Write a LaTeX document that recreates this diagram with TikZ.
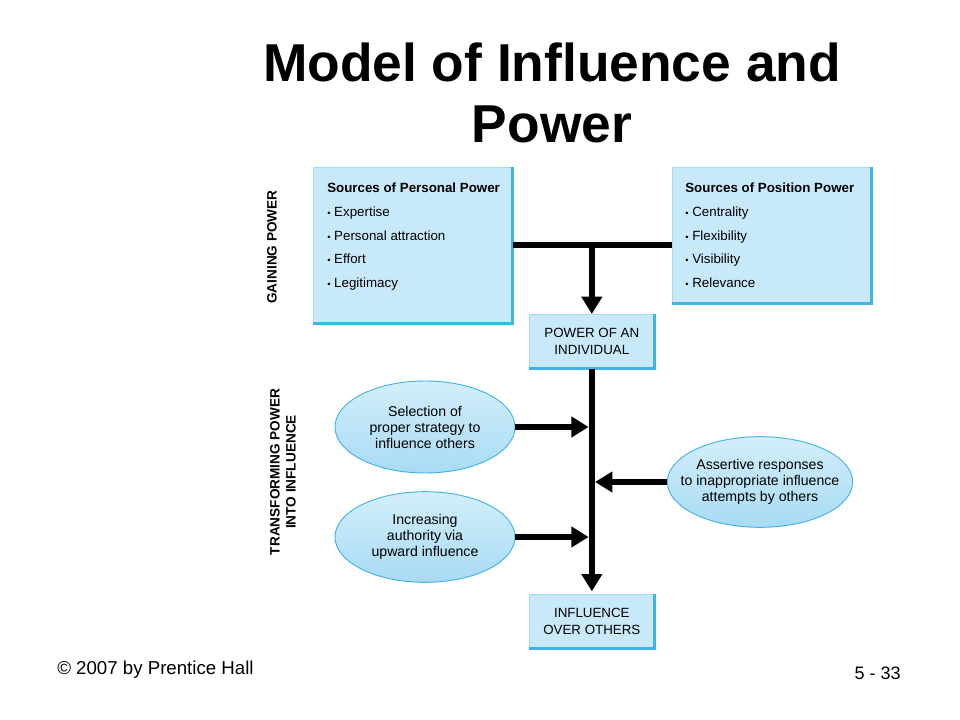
\documentclass[tikz,border=0pt]{standalone}
\usepackage{fontspec}
\setmainfont{Liberation Sans}
\usetikzlibrary{positioning,arrows.meta,shapes.geometric}
\definecolor{boxfill}{HTML}{C8E9F9}
\definecolor{boxrim}{HTML}{42B3E9}
\definecolor{boxlite}{HTML}{A6DBF4}
\definecolor{blobtop}{HTML}{D3EEFB}
\definecolor{blobbot}{HTML}{A8DBF4}

\tikzset{
    panel/.style={fill=boxfill, draw=boxlite, line width=0.5pt, anchor=north west, inner sep=0pt},
    rim/.style={draw=boxrim, line width=2pt},
    blob/.style={ellipse, top color=blobtop, bottom color=blobbot, draw=boxrim, line width=0.7pt,
        align=center, inner sep=-14pt, font=\fontsize{10.6}{12}\selectfont},
    list/.style={align=left, inner sep=0pt, font=\fontsize{10}{17.9}\selectfont},
    label/.style={align=center, inner sep=0pt, font=\fontsize{10}{12.5}\selectfont},
    side/.style={rotate=90, align=center, inner sep=0pt, font=\bfseries\fontsize{10.2}{12}\selectfont},
    bar/.style={line width=4.6pt},
    flow/.style={line width=4.6pt, -{Triangle[width=15pt,length=13pt]}},
}
\newcommand{\itm}{{\scriptsize\textbullet}\ }

\begin{document}
\begin{tikzpicture}[x=0.75pt, y=-0.75pt]
    \useasboundingbox (0,0) rectangle (960,720);

    % title
    \node[align=center, font=\bfseries\fontsize{40}{46}\selectfont] (title) at (552,93) {Model of Influence and\\Power};

    % boxes
    \node[panel, minimum width=149.25pt, minimum height=117pt] (pers) at (313,167) {};
    \node[panel, minimum width=149.25pt, minimum height=102pt] (posn) at (672,167) {};
    \node[panel, minimum width=93.75pt, minimum height=40.5pt] (pwr) at (529,314) {};
    \node[panel, minimum width=93.75pt, minimum height=40.5pt] (infl) at (529,594) {};
    \foreach \n in {pers,posn,pwr,infl} {
        \draw[rim] (\n.north east) -- (\n.south east) -- (\n.south west);
    };

    \node[list, below right=11.6pt and 10.5pt of pers.north west, anchor=north west] (perstext)
        {\textbf{Sources of Personal Power}\\ \itm Expertise\\ \itm Personal attraction\\ \itm Effort\\ \itm Legitimacy};
    \node[list, below right=11.6pt and 9.8pt of posn.north west, anchor=north west] (posntext)
        {\textbf{Sources of Position Power}\\ \itm Centrality\\ \itm Flexibility\\ \itm Visibility\\ \itm Relevance};
    \node[label] (pwrtext) at (pwr.center) {POWER OF AN\\INDIVIDUAL};
    \node[label] (infltext) at (infl.center) {INFLUENCE\\OVER OTHERS};

    % ellipses
    \node[blob, minimum width=135pt, minimum height=69pt] (sel) at (425,427) {Selection of\\proper strategy to\\influence others};
    \node[blob, minimum width=135pt, minimum height=68pt] (upw) at (425,537) {Increasing\\authority via\\upward influence};
    \node[blob, minimum width=139pt, minimum height=68pt] (asrt) at (760,482) {Assertive responses\\to inappropriate influence\\attempts by others};

    % side labels
    \node[side] (gain) at (272,247) {GAINING POWER};
    \node[side] (trans) at (283,472) {TRANSFORMING POWER\\INTO INFLUENCE};

    % connectors
    \coordinate (hub) at (pers.east -| pwr.north);
    \draw[bar] (pers.east) -- (pers.east -| posn.west);
    \draw[flow] (hub) -- (pwr.north);
    \draw[flow, shorten >=2pt] (pwr.south) -- (infl.north);
    \draw[flow, shorten >=2.4pt] (sel.east) -- (sel.east -| pwr.south);
    \draw[flow, shorten >=2.4pt] (upw.east) -- (upw.east -| pwr.south);
    \draw[flow, shorten >=2.4pt] (asrt.west) -- (asrt.west -| pwr.south);

    % footer
    \node[anchor=west, inner sep=0pt, font=\fontsize{14}{16}\selectfont] (copy) at (57,670) {\textcopyright\ 2007 by Prentice Hall};
    \node[anchor=east, inner sep=0pt, font=\fontsize{13.5}{15}\selectfont] (page) at (901,673) {5 - 33};
\end{tikzpicture}
\end{document}
